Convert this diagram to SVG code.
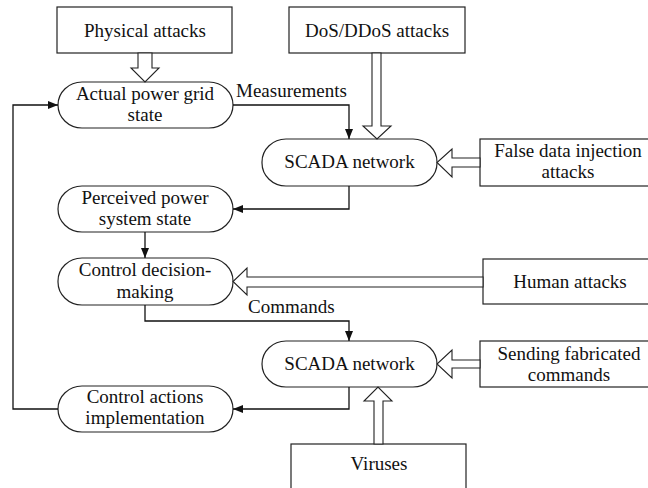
<svg xmlns="http://www.w3.org/2000/svg" width="648" height="488" viewBox="0 0 648 488">
  <style>
    text { font-family: "Liberation Serif", "Times New Roman", serif; font-size: 19px; fill: #111; }
    .c { text-anchor: middle; }
    .box { fill: #fff; stroke: #222; stroke-width: 1.2; }
    .node { fill: #fff; stroke: #222; stroke-width: 1.2; }
    .wire { fill: none; stroke: #111; stroke-width: 1.3; }
    .hollow { fill: #fff; stroke: #222; stroke-width: 1.1; stroke-linejoin: miter; }
  </style>
  <defs>
    <marker id="tip" viewBox="0 0 10 8" refX="10" refY="4" markerWidth="10" markerHeight="8" markerUnits="userSpaceOnUse" orient="auto">
      <path d="M0,0 L10,4 L0,8 Z" fill="#111"/>
    </marker>
  </defs>

  <!-- attack sources -->
  <g id="physical-attacks">
    <rect class="box" x="57" y="7" width="175" height="46"/>
    <text class="c" x="145" y="37">Physical attacks</text>
  </g>
  <g id="dos-attacks">
    <rect class="box" x="289" y="7" width="176" height="46"/>
    <text class="c" x="377" y="37">DoS/DDoS attacks</text>
  </g>
  <g id="false-data-injection">
    <rect class="box" x="480" y="139" width="176" height="47"/>
    <text class="c" x="568" y="157">False data injection</text>
    <text class="c" x="568" y="178">attacks</text>
  </g>
  <g id="human-attacks">
    <rect class="box" x="483" y="259" width="174" height="45"/>
    <text class="c" x="570" y="288">Human attacks</text>
  </g>
  <g id="fabricated-commands">
    <rect class="box" x="480" y="341" width="176" height="46"/>
    <text class="c" x="569" y="360">Sending fabricated</text>
    <text class="c" x="569" y="381">commands</text>
  </g>
  <g id="viruses">
    <rect class="box" x="291" y="444" width="175" height="50"/>
    <text class="c" x="379" y="470">Viruses</text>
  </g>

  <!-- process states -->
  <g id="actual-state">
    <rect class="node" x="58" y="82" width="175" height="46" rx="24" ry="23"/>
    <text class="c" x="145" y="100">Actual power grid</text>
    <text class="c" x="145" y="121">state</text>
  </g>
  <g id="scada-1">
    <rect class="node" x="262" y="139" width="175" height="47" rx="24" ry="23"/>
    <text class="c" x="349.5" y="168">SCADA network</text>
  </g>
  <g id="perceived-state">
    <rect class="node" x="58" y="186" width="175" height="46" rx="24" ry="23"/>
    <text class="c" x="145" y="204">Perceived power</text>
    <text class="c" x="145" y="225">system state</text>
  </g>
  <g id="control-decision">
    <rect class="node" x="58" y="258" width="175" height="47" rx="24" ry="23"/>
    <text class="c" x="145" y="276">Control decision-</text>
    <text class="c" x="145" y="298">making</text>
  </g>
  <g id="scada-2">
    <rect class="node" x="262" y="341" width="175" height="46" rx="24" ry="23"/>
    <text class="c" x="349.5" y="370">SCADA network</text>
  </g>
  <g id="control-actions">
    <rect class="node" x="58" y="386" width="175" height="46" rx="24" ry="23"/>
    <text class="c" x="145" y="403">Control actions</text>
    <text class="c" x="145" y="424">implementation</text>
  </g>

  <!-- connectors -->
  <g id="connectors">
    <path class="wire" d="M233,105 H349 V139" marker-end="url(#tip)"/>
    <path class="wire" d="M349,186 V209 H233" marker-end="url(#tip)"/>
    <path class="wire" d="M145,232 V258" marker-end="url(#tip)"/>
    <path class="wire" d="M145,305 V321 H349 V341" marker-end="url(#tip)"/>
    <path class="wire" d="M349,387 V409 H233" marker-end="url(#tip)"/>
    <path class="wire" d="M58,409 H13 V105 H58" marker-end="url(#tip)"/>

    <!-- attack injection arrows -->
    <polygon class="hollow" points="138,53 152,53 152,68 159,68 145,82 131,68 138,68"/>
    <polygon class="hollow" points="372,53 381,53 381,126 391,126 377,139 363,126 372,126"/>
    <polygon class="hollow" points="480,158 480,167 452,167 452,177 437,162.5 452,149 452,158"/>
    <polygon class="hollow" points="483,277 483,287 247,287 247,295 233,281.5 247,268 247,277"/>
    <polygon class="hollow" points="480,360 480,368 452,368 452,378 437,364 452,350 452,360"/>
    <polygon class="hollow" points="374,444 383,444 383,401 392,401 378,387 364,401 374,401"/>

    <text x="236" y="97">Measurements</text>
    <text x="248" y="313">Commands</text>
  </g>
</svg>
